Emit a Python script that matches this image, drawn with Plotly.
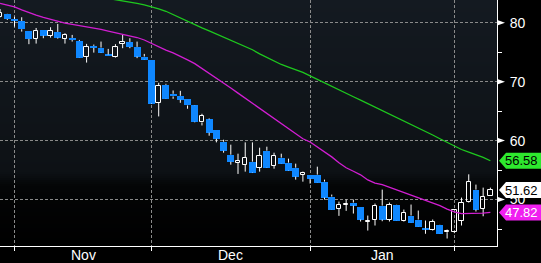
import plotly.graph_objects as go

# ---------------- data ----------------
opens = [81.0, 81.47, 80.63, 80.29, 78.6, 77.29, 78.76, 77.8, 78.43, 77.29,
         77.41, 76.9, 74.25, 76.06, 75.77, 74.59, 74.25, 76.40, 76.73, 75.89,
         74.25, 73.74, 66.46, 69.46, 67.94, 67.6, 67.09, 65.96, 63.08, 63.59,
         61.84, 59.81, 57.61, 56.26, 55.92, 56.43, 55.41, 58.29, 55.75, 57.11,
         56.26, 55.41, 54.23, 54.23, 54.23, 53.04, 50.51, 48.48, 49.16, 49.49,
         48.81, 46.28, 46.62, 48.98, 46.62, 49.16, 46.45, 47.29, 46.62, 45.09,
         44.92, 45.77, 44.47, 44.47, 46.45, 49.66, 51.69, 48.48, 50.68]
highs = [82.3, 81.5, 81.0, 80.91, 78.62, 79.1, 78.78, 79.22, 79.78, 78.2,
         77.92, 77.07, 76.4, 76.28, 76.79, 75.55, 76.35, 77.92, 77.36, 76.79,
         74.7, 73.76, 69.8, 69.63, 68.5, 68.44, 67.1, 66.0, 64.55, 63.76,
         61.86, 60.15, 59.31, 57.78, 59.7, 59.7, 58.8, 58.97, 57.95, 57.78,
         56.94, 56.09, 54.74, 54.25, 55.58, 53.38, 50.85, 49.66, 50.0, 50.0,
         48.83, 47.29, 49.32, 51.69, 49.49, 49.2, 48.31, 49.16, 48.14, 46.45,
         46.62, 45.8, 44.92, 48.35, 50.34, 54.28, 52.54, 52.03, 52.03]
lows = [80.9, 80.46, 79.32, 78.48, 76.35, 76.45, 77.36, 77.46, 77.29, 76.45,
        76.79, 74.05, 73.23, 74.92, 74.85, 74.40, 74.08, 75.67, 75.67, 73.98,
        73.7, 66.2, 64.1, 67.05, 67.09, 66.41, 65.4, 63.1, 62.57, 60.83,
        59.7, 57.95, 55.92, 54.35, 54.74, 54.5, 54.74, 55.35, 55.24, 56.05,
        54.85, 53.38, 53.04, 52.71, 52.85, 50.0, 48.28, 47.24, 48.09, 47.63,
        46.28, 44.75, 45.6, 46.33, 46.28, 46.42, 46.28, 46.08, 45.40, 44.2,
        44.75, 44.22, 43.4, 44.3, 45.6, 49.49, 47.97, 47.17, 50.65]
closes = [81.7, 80.63, 80.34, 78.88, 77.24, 78.6, 77.8, 78.6, 77.46, 77.92,
          77.07, 74.08, 75.89, 75.72, 74.92, 74.42, 75.84, 76.73, 75.89, 74.25,
          73.74, 66.29, 69.29, 67.09, 67.48, 66.92, 65.96, 63.2, 64.21, 61.34,
          60.32, 58.29, 56.43, 56.6, 57.11, 54.57, 57.44, 55.41, 57.44, 56.09,
          54.91, 53.89, 54.57, 53.55, 52.88, 50.34, 48.31, 49.16, 49.32, 48.98,
          46.62, 46.45, 48.98, 46.62, 49.16, 46.45, 47.8, 46.11, 45.43, 44.92,
          46.28, 44.25, 44.64, 48.31, 49.49, 53.04, 48.31, 50.51, 51.62]
ma_short = [83.28, 82.96, 82.67, 82.15, 81.66, 81.29, 80.91, 80.54, 80.19, 79.92,
            79.71, 79.51, 79.29, 79.07, 78.85, 78.58, 78.31, 78.05, 77.77, 77.48,
            77.06, 76.48, 75.87, 75.35, 74.86, 74.33, 73.69, 73.05, 72.25, 71.46,
            70.64, 69.81, 68.93, 68.05, 67.19, 66.29, 65.41, 64.59, 63.76, 62.98,
            62.11, 61.17, 60.32, 59.76, 58.97, 58.17, 57.24, 56.26, 55.40, 54.81,
            54.20, 53.33, 52.79, 52.54, 52.10, 51.62, 51.20, 50.80, 50.39, 49.95,
            49.48, 48.98, 48.39, 47.90, 47.63, 47.63, 47.63, 47.70, 47.82]
ma_long = [86.9, 86.7, 86.5, 86.3, 86.1, 85.9, 85.7, 85.6, 85.4, 85.2,
           85.0, 84.9, 84.7, 84.55, 84.35, 84.13, 83.93, 83.71, 83.50, 83.28,
           83.00, 82.72, 82.34, 81.93, 81.35, 80.73, 80.19, 79.66, 79.12, 78.60,
           78.07, 77.55, 77.02, 76.48, 75.96, 75.41, 74.70, 74.06, 73.49, 72.91,
           72.47, 72.06, 71.56, 70.98, 70.37, 69.76, 69.15, 68.58, 68.00, 67.43,
           66.87, 66.29, 65.72, 65.13, 64.55, 63.98, 63.38, 62.78, 62.17, 61.56,
           60.95, 60.32, 59.71, 59.09, 58.49, 58.04, 57.63, 57.17, 56.58]
month_labels = ["Nov", "Dec", "Jan"]
month_start_idx = [2, 21, 43, 63]
y_ticks = [50, 60, 70, 80]
y_minor_ticks = [45, 55, 65, 75]

# ---------------- styling ----------------
W, H = 541, 263
M_L, M_R, M_T, M_B = 0, 44, 0, 17
PLOT_H = H - M_T - M_B
Y_MIN, Y_MAX = 42.13, 83.84
X_MIN, X_MAX = -0.011, 68.92
BLUE = "#0f87ff"
MAGENTA = "#d21ed2"
GREEN = "#1ec81e"
GRID = "#8a8a8a"
FONT = "Liberation Sans, Arial, sans-serif"

idx = list(range(len(closes)))

fig = go.Figure()

# candle wicks
wx, wy = [], []
for i, o, h, l, c in zip(idx, opens, highs, lows, closes):
    lo, hi = min(o, c), max(o, c)
    wx += [i, i, None, i, i, None]
    wy += [l, lo, None, hi, h, None]
fig.add_trace(go.Scatter(x=wx, y=wy, mode="lines", line=dict(color="white", width=1),
                         hoverinfo="skip", showlegend=False))

# falling candles: filled blue bodies
dec = [i for i in idx if closes[i] < opens[i]]
fig.add_trace(go.Bar(x=dec, base=[closes[i] for i in dec],
                     y=[opens[i] - closes[i] for i in dec], width=0.95,
                     marker=dict(color=BLUE, line=dict(width=0)), showlegend=False))
# rising candles: hollow white bodies
inc = [i for i in idx if closes[i] >= opens[i]]
fig.add_trace(go.Bar(x=inc, base=[opens[i] for i in inc],
                     y=[max(closes[i] - opens[i], 0.05) for i in inc], width=0.62,
                     marker=dict(color="rgba(0,0,0,0)", line=dict(color="white", width=1)),
                     showlegend=False))

# moving averages
fig.add_trace(go.Scatter(x=idx, y=ma_long, mode="lines", line=dict(color=GREEN, width=1.3),
                         showlegend=False))
fig.add_trace(go.Scatter(x=idx, y=ma_short, mode="lines", line=dict(color=MAGENTA, width=1.3),
                         showlegend=False))

shapes = []
# background vertical gradient in plot area
stops = [(0, (20, 26, 33)), (172, (13, 17, 21)), (186, (4, 5, 6)), (PLOT_H, (0, 0, 0))]
step = 2
p = 0
while p < PLOT_H:
    pm = p + step / 2
    for (a, ca), (b, cb) in zip(stops[:-1], stops[1:]):
        if a <= pm <= b:
            t = (pm - a) / (b - a)
            col = tuple(round(ca[j] + (cb[j] - ca[j]) * t) for j in range(3))
            break
    shapes.append(dict(type="rect", xref="paper", yref="paper", x0=0, x1=1,
                       y0=1 - min(p + step, PLOT_H) / PLOT_H, y1=1 - p / PLOT_H,
                       fillcolor="rgb(%d,%d,%d)" % col, line=dict(width=0), layer="below"))
    p += step

def ypaper(v):
    return (v - Y_MIN) / (Y_MAX - Y_MIN)

# tick pointer triangles
for v in y_ticks:
    shapes.append(dict(type="path", xref="paper", yref="paper", xsizemode="pixel",
                       ysizemode="pixel", xanchor=1, yanchor=ypaper(v),
                       path="M 1 2.5 L 8 0 L 1 -2.5 Z", fillcolor="white",
                       line=dict(width=0), layer="above"))

# last value tags
tags = [(ma_long[-1], "#2ee82e", "black"), (closes[-1], "white", "black"),
        (ma_short[-1], "#f020f0", "white")]
annotations = []
for v, bg, fg in tags:
    shapes.append(dict(type="path", xref="paper", yref="paper", xsizemode="pixel",
                       ysizemode="pixel", xanchor=1, yanchor=ypaper(v),
                       path="M 2 0 L 9 8 L 50 8 L 50 -8 L 9 -8 Z", fillcolor=bg,
                       line=dict(width=0), layer="above"))
    annotations.append(dict(x=1, xref="paper", y=v, yref="y", xanchor="left",
                            xshift=7, text="%.2f" % v, showarrow=False, borderpad=0,
                            font=dict(family=FONT, size=13, color=fg)))

# month labels centred in each month
for lab, a, b in zip(month_labels, month_start_idx[:-1], month_start_idx[1:]):
    annotations.append(dict(x=(a + b) / 2, xref="x", y=-M_B / PLOT_H, yref="paper",
                            yanchor="bottom", yshift=-1, text=lab, showarrow=False,
                            borderpad=0,
                            font=dict(family=FONT, size=14, color="white")))

fig.update_layout(
    width=W, height=H, margin=dict(l=M_L, r=M_R, t=M_T, b=M_B),
    paper_bgcolor="black", plot_bgcolor="black",
    barmode="overlay", bargap=0, showlegend=False,
    shapes=shapes, annotations=annotations,
    font=dict(family=FONT, size=14, color="white"),
)
fig.update_xaxes(range=[X_MIN, X_MAX], tickvals=month_start_idx, showticklabels=False,
                 ticks="outside", ticklen=4, tickcolor="white", tickwidth=1,
                 showgrid=True, gridcolor=GRID, gridwidth=1, griddash="3px,2px",
                 showline=True, linecolor="white", linewidth=1, zeroline=False)
fig.update_yaxes(side="right", range=[Y_MIN, Y_MAX], tickvals=y_ticks,
                 ticks="outside", ticklen=9, tickcolor="rgba(0,0,0,0)",
                 tickfont=dict(family=FONT, size=14, color="white"),
                 showgrid=True, gridcolor=GRID, gridwidth=1, griddash="3px,2px",
                 showline=True, linecolor="white", linewidth=1, zeroline=False,
                 minor=dict(tickvals=y_minor_ticks, ticks="outside", ticklen=4,
                            tickcolor="white", tickwidth=1, showgrid=False))

fig.write_html("out.html")
